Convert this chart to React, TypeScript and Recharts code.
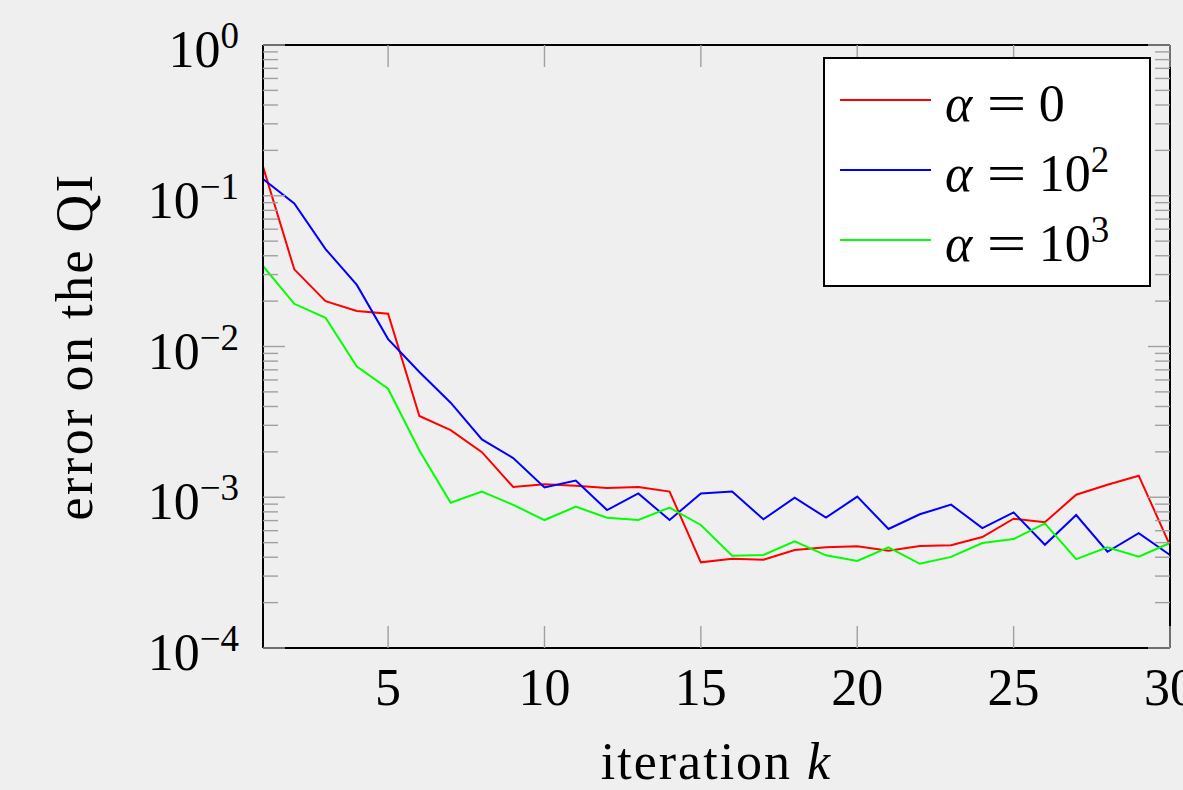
import React from "react";
import { LineChart, Line, XAxis, YAxis, Legend } from "recharts";

// iteration index k
const iterations = [
  1, 2, 3, 4, 5, 6, 7, 8, 9, 10, 11, 12, 13, 14, 15, 16, 17, 18, 19, 20, 21,
  22, 23, 24, 25, 26, 27, 28, 29, 30,
];

// error on the QI, alpha = 0
const errAlpha0 = [
  0.156, 0.0325, 0.02, 0.0172, 0.0165, 0.00346, 0.00279, 0.00199, 0.00117,
  0.00122, 0.00119, 0.00115, 0.00117, 0.00109, 0.00037, 0.000391, 0.000385,
  0.000447, 0.000466, 0.000473, 0.000442, 0.000475, 0.00048, 0.000545,
  0.000721, 0.000682, 0.00104, 0.00121, 0.00139, 0.00048,
];

// error on the QI, alpha = 10^2
const errAlpha1e2 = [
  0.129, 0.089, 0.0443, 0.0256, 0.0112, 0.00678, 0.00424, 0.00242, 0.00182,
  0.00116, 0.00129, 0.000822, 0.00106, 0.000706, 0.00106, 0.00109, 0.000714,
  0.000993, 0.000732, 0.00101, 0.000616, 0.000771, 0.000893, 0.000625,
  0.000794, 0.000484, 0.000762, 0.000435, 0.000577, 0.000414,
];

// error on the QI, alpha = 10^3
const errAlpha1e3 = [
  0.0342, 0.0192, 0.0155, 0.00735, 0.00525, 0.00204, 0.00092, 0.00109,
  0.00089, 0.000706, 0.000866, 0.000732, 0.000706, 0.000853, 0.000655,
  0.000409, 0.000414, 0.00051, 0.000412, 0.000378, 0.000466, 0.000362,
  0.000402, 0.000497, 0.000528, 0.000671, 0.000389, 0.000466, 0.000404,
  0.000497,
];

const xTicks = [5, 10, 15, 20, 25, 30];
const yDecadeExps = [-4, -3, -2, -1, 0];
const yMinorMultipliers = [2, 3, 4, 5, 6, 7, 8, 9];

const seriesKeys = ["a0", "a2", "a3"];
const seriesColors = ["#ff0000", "#0000ff", "#00ff00"];
const seriesBase = ["0", "10", "10"];
const seriesExp = ["", "2", "3"];

const data = iterations.map((k, i) => ({
  k,
  a0: errAlpha0[i],
  a2: errAlpha1e2[i],
  a3: errAlpha1e3[i],
}));

const yTicks: number[] = [];
yDecadeExps.forEach((e) => {
  yTicks.push(Math.pow(10, e));
  if (e < 0) yMinorMultipliers.forEach((m) => yTicks.push(m * Math.pow(10, e)));
});

const FONT = "'Liberation Serif', 'DejaVu Serif', serif";
const BG = "#efefef";
const TICK_COLOR = "#a0a0a0";
const MAJOR_LEN = 22;
const MINOR_LEN = 15;
const FRAME = { stroke: "#000", strokeWidth: 2 };

const isDecade = (v: number) =>
  Math.abs(Math.log10(v) - Math.round(Math.log10(v))) < 1e-6;

const LeftTick = ({ x, y, payload }: any) => {
  const v = payload.value;
  const major = isDecade(v);
  const exp = Math.round(Math.log10(v));
  return (
    <g>
      <line
        x1={x}
        x2={x + (major ? MAJOR_LEN : MINOR_LEN)}
        y1={y}
        y2={y}
        stroke={TICK_COLOR}
        strokeWidth={1.4}
      />
      {major && (
        <text
          x={x - 24}
          y={y + 22}
          textAnchor="end"
          fontFamily={FONT}
          fontSize={52}
          fill="#000"
        >
          10
          <tspan dy={-19} fontSize={37}>
            {exp === 0 ? "0" : `\u2212${-exp}`}
          </tspan>
        </text>
      )}
    </g>
  );
};

const RightTick = ({ x, y, payload }: any) => {
  const major = isDecade(payload.value);
  return (
    <line
      x1={x}
      x2={x - (major ? MAJOR_LEN : MINOR_LEN)}
      y1={y}
      y2={y}
      stroke={TICK_COLOR}
      strokeWidth={1.4}
    />
  );
};

const BottomTick = ({ x, y, payload }: any) => (
  <g>
    <line x1={x} x2={x} y1={y} y2={y - MAJOR_LEN} stroke={TICK_COLOR} strokeWidth={1.4} />
    <text x={x} y={y + 57} textAnchor="middle" fontFamily={FONT} fontSize={52} fill="#000">
      {payload.value}
    </text>
  </g>
);

const TopTick = ({ x, y }: any) => (
  <line x1={x} x2={x} y1={y} y2={y + MAJOR_LEN} stroke={TICK_COLOR} strokeWidth={1.4} />
);

const XTitle = ({ viewBox }: any) => (
  <text
    x={viewBox.x + viewBox.width / 2}
    y={viewBox.y + 131}
    textAnchor="middle"
    fontFamily={FONT}
    fontSize={52}
    letterSpacing={2}
    fill="#000"
  >
    iteration <tspan fontStyle="italic">k</tspan>
  </text>
);

const YTitle = ({ viewBox }: any) => {
  const cx = viewBox.x + 92;
  const cy = viewBox.y + viewBox.height / 2;
  return (
    <text
      x={cx}
      y={cy}
      textAnchor="middle"
      transform={`rotate(-90, ${cx}, ${cy})`}
      fontFamily={FONT}
      fontSize={52}
      letterSpacing={2.5}
      fill="#000"
    >
      error on the QI
    </text>
  );
};

const LegendBox = ({ payload }: any) => (
  <div
    style={{
      width: 328,
      height: 230,
      boxSizing: "border-box",
      background: "#fff",
      border: "2px solid #000",
      paddingTop: 6,
      fontFamily: FONT,
      fontSize: 52,
      color: "#000",
    }}
  >
    {(payload || []).map((entry: any) => {
      const i = seriesKeys.indexOf(entry.dataKey);
      return (
        <div
          key={entry.dataKey}
          style={{ display: "flex", alignItems: "center", height: 70 }}
        >
          <svg width={108} height={6} style={{ flex: "none" }}>
            <line x1={15} x2={106} y1={3} y2={3} stroke={entry.color} strokeWidth={2} />
          </svg>
          <span style={{ marginLeft: 12, whiteSpace: "nowrap", lineHeight: 1, marginTop: 8 }}>
            <i>α</i>
            <span
              style={{
                display: "inline-block",
                margin: "0 17px 0 20px",
                transform: "scaleX(1.35)",
              }}
            >
              =
            </span>
            {seriesBase[i]}
            {seriesExp[i] && (
              <sup style={{ fontSize: 37, verticalAlign: 19, lineHeight: 0 }}>{seriesExp[i]}</sup>
            )}
          </span>
        </div>
      );
    })}
  </div>
);

export default function App() {
  return (
    <div
      style={{
        position: "absolute",
        left: 0,
        top: 0,
        width: 1183,
        height: 790,
        background: BG,
      }}
    >
      <LineChart
        width={1183}
        height={790}
        data={data}
        margin={{ top: 0, right: 0, bottom: 0, left: 0 }}
      >
        <XAxis
          dataKey="k"
          type="number"
          domain={[1, 30]}
          ticks={xTicks}
          interval={0}
          height={142}
          tickSize={0}
          tickMargin={0}
          tick={<BottomTick />}
          axisLine={FRAME}
          tickLine={false}
          label={<XTitle />}
        />
        <XAxis
          xAxisId="top"
          orientation="top"
          dataKey="k"
          type="number"
          domain={[1, 30]}
          ticks={xTicks}
          interval={0}
          height={45}
          tickSize={0}
          tickMargin={0}
          tick={<TopTick />}
          axisLine={FRAME}
          tickLine={false}
        />
        <YAxis
          type="number"
          scale="log"
          domain={[1e-4, 1]}
          allowDataOverflow
          ticks={yTicks}
          interval={0}
          width={263}
          tickSize={0}
          tickMargin={0}
          tick={<LeftTick />}
          axisLine={FRAME}
          tickLine={false}
          label={<YTitle />}
        />
        <YAxis
          yAxisId="right"
          orientation="right"
          type="number"
          scale="log"
          domain={[1e-4, 1]}
          allowDataOverflow
          ticks={yTicks}
          interval={0}
          width={13}
          tickSize={0}
          tickMargin={0}
          tick={<RightTick />}
          axisLine={FRAME}
          tickLine={false}
        />
        <Legend
          layout="horizontal"
          verticalAlign="middle"
          align="center"
          content={<LegendBox />}
          wrapperStyle={{ left: 823, top: 57, width: 328, height: 230 }}
        />
        {seriesKeys.map((key, i) => (
          <Line
            key={key}
            dataKey={key}
            name={key}
            type="linear"
            stroke={seriesColors[i]}
            strokeWidth={2}
            dot={false}
            activeDot={false}
            isAnimationActive={false}
          />
        ))}
      </LineChart>
    </div>
  );
}
